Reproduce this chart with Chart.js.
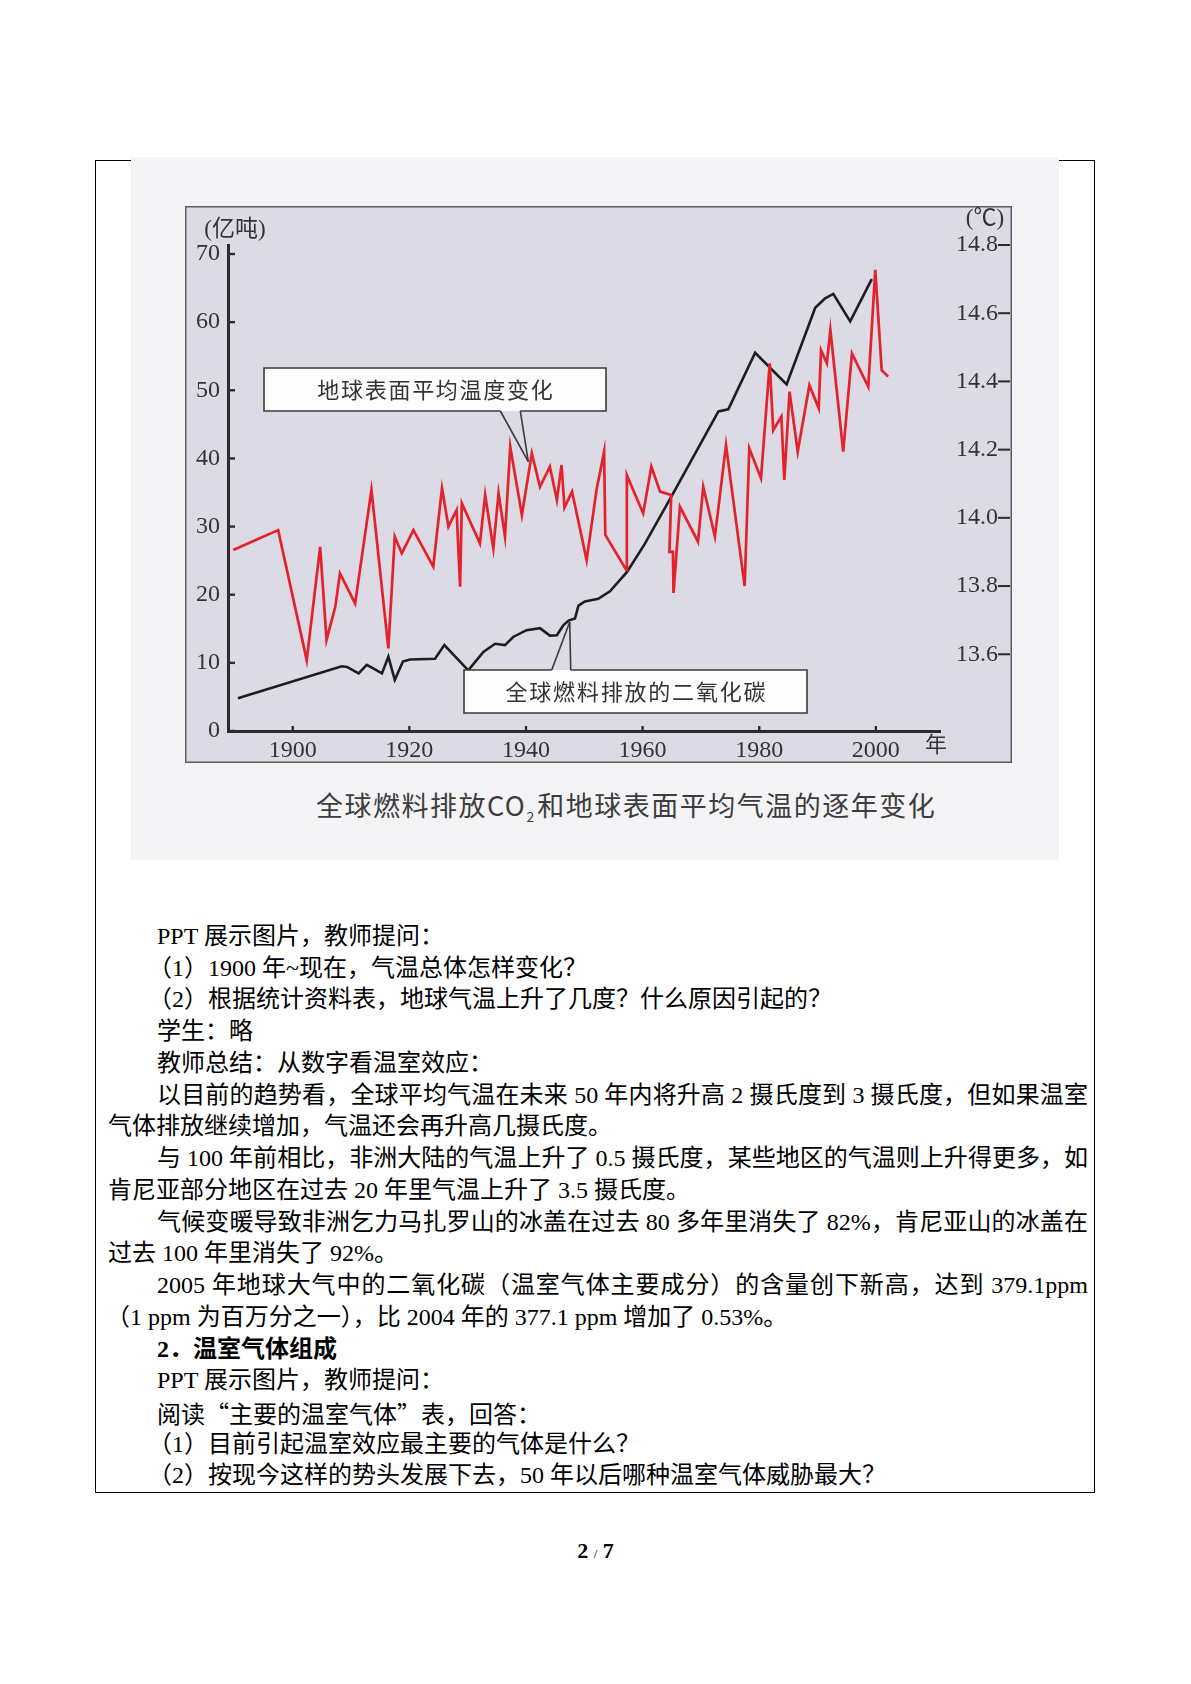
<!DOCTYPE html>
<html>
<head>
<meta charset="UTF-8">
<title>全球燃料排放CO2和地球表面平均气温的逐年变化</title>
<script src="https://cdn.jsdelivr.net/npm/chart.js"></script>
<style>
    html, body { margin: 0; padding: 0; background: #fff; }
    body { width: 1191px; height: 1684px; position: relative; overflow: hidden;
           font-family: "Liberation Serif", "Noto Sans CJK SC", serif; color: #000; }

    .table_box { position: absolute; left: 95px; top: 160px; width: 1000px; height: 1333px;
                 border: 1.5px solid #000; box-sizing: border-box; }
    .scan { position: absolute; left: 131px; top: 157px; width: 928px; height: 703px; background: #f4f3f6; }
    .chart_holder { position: absolute; left: 185px; top: 206px; width: 827px; height: 562px; }
    .caption { position: absolute; left: 316px; top: 786px; font-family: "Noto Sans CJK SC", sans-serif;
               font-size: 27px; letter-spacing: 1.5px; line-height: 38px; color: #3c3c3c; white-space: nowrap; }
    .caption sub { font-size: 14px; vertical-align: -6px; letter-spacing: 3px; }

    .lines { position: absolute; left: 0; top: 921px; width: 1191px; }
    .ln { height: 31.74px; line-height: 31.74px; font-size: 24px; white-space: nowrap; }
    .jst { text-align: justify; text-align-last: justify; width: 931px; }
    .wrapok { white-space: normal; }
    .cjk { font-family: "Noto Sans CJK SC", sans-serif; }
    .bold { font-weight: bold; }

    .page_no { position: absolute; left: 0; width: 1191px; top: 1538px; text-align: center;
               font-size: 22px; font-weight: bold; }
    .page_no span { font-size: 13px; font-weight: normal; }
</style>
</head>
<body>

    <div class="table_box"></div>
    <div class="scan"></div>

    <div class="chart_holder">
        <canvas id="co2_temp_chart"></canvas>
    </div>

    <div class="caption">全球燃料排放CO<sub>2</sub>和地球表面平均气温的逐年变化</div>

    <div class="lines">
        <div class="ln" style="margin-left:157px">PPT 展示图片，教师提问：</div>
        <div class="ln" style="margin-left:148px">（1）1900 年~现在，气温总体怎样变化？</div>
        <div class="ln" style="margin-left:148px">（2）根据统计资料表，地球气温上升了几度？什么原因引起的？</div>
        <div class="ln" style="margin-left:157px">学生：略</div>
        <div class="ln" style="margin-left:157px">教师总结：从数字看温室效应：</div>
        <div class="ln jst" style="margin-left:157px">以目前的趋势看，全球平均气温在未来 50 年内将升高 2 摄氏度到 3 摄氏度，但如果温室</div>
        <div class="ln" style="margin-left:108px">气体排放继续增加，气温还会再升高几摄氏度。</div>
        <div class="ln jst" style="margin-left:157px">与 100 年前相比，非洲大陆的气温上升了 0.5 摄氏度，某些地区的气温则上升得更多，如</div>
        <div class="ln" style="margin-left:108px">肯尼亚部分地区在过去 20 年里气温上升了 3.5 摄氏度。</div>
        <div class="ln jst" style="margin-left:157px">气候变暖导致非洲乞力马扎罗山的冰盖在过去 80 多年里消失了 82%，肯尼亚山的冰盖在</div>
        <div class="ln" style="margin-left:108px">过去 100 年里消失了 92%。</div>
        <div class="ln jst wrapok" style="margin-left:157px">2005 年地球大气中的二氧化碳（温室气体主要成分）的含量创下新高，达到 379.1ppm</div>
        <div class="ln" style="margin-left:106px">（1 ppm 为百万分之一），比 2004 年的 377.1 ppm 增加了 0.53%。</div>
        <div class="ln bold" style="margin-left:157px">2．温室气体组成</div>
        <div class="ln" style="margin-left:157px">PPT 展示图片，教师提问：</div>
        <div class="ln" style="margin-left:157px">阅读<span class="cjk">“</span>主要的温室气体<span class="cjk">”</span>表，回答：</div>
        <div class="ln" style="margin-left:148px">（1）目前引起温室效应最主要的气体是什么？</div>
        <div class="ln" style="margin-left:148px">（2）按现今这样的势头发展下去，50 年以后哪种温室气体威胁最大？</div>
    </div>

    <div class="page_no">2 <span>/</span> 7</div>

<script>
// values
const co2Years  = [1890.6, 1908.4, 1909.3, 1911.3, 1912.7, 1913.8, 1915.3, 1916.4, 1917.5, 1918.9,
                   1920.1, 1924.4, 1926.0, 1930.1, 1932.7, 1934.7, 1936.4, 1937.8, 1940.1, 1942.4,
                   1944.1, 1945.3, 1946.4, 1947.3, 1948.4, 1949.0, 1950.1, 1952.4, 1954.4, 1957.3,
                   1960.4, 1965.0, 1973.0, 1974.7, 1979.3, 1984.7, 1989.6, 1991.3, 1992.7, 1995.6,
                   1999.3];
const co2Values = [4.8, 9.5, 9.4, 8.45, 9.7, 9.2, 8.45, 10.9, 7.5, 10.2,
                   10.5, 10.6, 12.6, 8.9, 11.6, 12.8, 12.6, 13.8, 14.8, 15.1,
                   14.0, 14.05, 15.5, 16.2, 16.5, 18.4, 19.0, 19.4, 20.5, 23.3,
                   27.5, 34.5, 46.9, 47.2, 55.5, 50.85, 62.1, 63.5, 64.15, 60.1,
                   66.3];

const tempYears  = [1889.8, 1897.5, 1902.4, 1904.7, 1905.8, 1907.3, 1908.1, 1910.7, 1913.5, 1916.4,
                    1917.5, 1918.7, 1920.7, 1924.1, 1925.6, 1926.7, 1928.1, 1928.7, 1929.0, 1932.1,
                    1933.0, 1934.4, 1935.3, 1936.4, 1937.3, 1939.3, 1941.0, 1942.4, 1944.1, 1945.3,
                    1946.1, 1946.6, 1947.9, 1950.4, 1952.1, 1953.4, 1953.6, 1957.2, 1957.3, 1960.1,
                    1961.5, 1963.0, 1964.9, 1964.6, 1965.2, 1965.3, 1966.4, 1969.5, 1970.4, 1972.4,
                    1974.3, 1977.5, 1978.3, 1980.3, 1981.8, 1982.4, 1983.8, 1984.3, 1985.2, 1986.6,
                    1988.6, 1990.2, 1990.6, 1991.6, 1992.2, 1994.4, 1995.9, 1998.7, 1999.9, 2001.0,
                    2002.1];
const tempValues = [13.906, 13.964, 13.583, 13.915, 13.642, 13.739, 13.837, 13.749, 14.082, 13.617,
                    13.945, 13.896, 13.964, 13.857, 14.087, 13.974, 14.023, 13.798, 14.043, 13.925,
                    14.067, 13.911, 14.072, 13.945, 14.209, 14.008, 14.189, 14.091, 14.15, 14.052,
                    14.155, 14.03, 14.077, 13.876, 14.082, 14.194, 13.95, 13.847, 14.125, 14.013,
                    14.15, 14.077, 14.067, 13.9, 13.9, 13.78, 14.033, 13.93, 14.091, 13.945,
                    14.213, 13.8, 14.204, 14.116, 14.453, 14.257, 14.297, 14.111, 14.37, 14.194,
                    14.389, 14.321, 14.492, 14.453, 14.551, 14.194, 14.482, 14.384, 14.727, 14.433,
                    14.414];

const yearTicks = [1900, 1920, 1940, 1960, 1980, 2000];
const co2Ticks  = [0, 10, 20, 30, 40, 50, 60, 70];
const tempTicks = [13.6, 13.8, 14.0, 14.2, 14.4, 14.6, 14.8];

const co2Unit   = '(亿吨)';
const tempUnit  = '(℃)';
const yearUnit  = '年';
const tempNote  = '地球表面平均温度变化';
const co2Note   = '全球燃料排放的二氧化碳';

const SERIF = '"Liberation Serif", "Noto Sans CJK SC", serif';
const AXIS_INK = '#2b2b2e';
const LABEL_INK = '#333336';
const FRAME_H = 557;   // printed frame height inside the canvas


//  background + frame of the printed figure
//---------------------------------------------------------------
const frameBackground = {
    id: 'frameBackground',
    beforeDraw(chart) {
        const {ctx, width, height} = chart;
        ctx.save();
        ctx.fillStyle = '#f4f3f6';
        ctx.fillRect(0, 0, width, height);
        ctx.fillStyle = '#dcdae4';
        ctx.fillRect(0, 0, width, FRAME_H);
        ctx.strokeStyle = '#5c5b62';
        ctx.lineWidth = 1.5;
        ctx.strokeRect(0.75, 0.75, width - 1.5, FRAME_H - 1.5);
        ctx.restore();
    }
};

function seg(ctx, x1, y1, x2, y2) {
    ctx.beginPath();
    ctx.moveTo(x1, y1);
    ctx.lineTo(x2, y2);
    ctx.stroke();
}

function spacedText(ctx, text, cx, cy, step) {
    const chars = Array.from(text);
    let x = cx - step * (chars.length - 1) / 2;
    chars.forEach(c => { ctx.fillText(c, x, cy); x += step; });
}

// callout box with a pointer; the gap is where the pointer leaves the box edge
function callout(ctx, box, side, gapLeft, gapRight, tip, text, step) {
    const {x0, y0, x1, y1} = box;
    ctx.fillStyle = '#fdfdfd';
    ctx.fillRect(x0, y0, x1 - x0, y1 - y0);
    ctx.strokeStyle = '#3a3a3e';
    ctx.lineWidth = 1.6;
    ctx.beginPath();
    if (side === 'bottom') {
        ctx.moveTo(gapLeft, y1); ctx.lineTo(x0, y1); ctx.lineTo(x0, y0);
        ctx.lineTo(x1, y0); ctx.lineTo(x1, y1); ctx.lineTo(gapRight, y1);
        ctx.stroke();
        seg(ctx, gapLeft, y1, tip.x, tip.y);
        seg(ctx, gapRight, y1, tip.x, tip.y);
    } else {
        ctx.moveTo(gapLeft, y0); ctx.lineTo(x0, y0); ctx.lineTo(x0, y1);
        ctx.lineTo(x1, y1); ctx.lineTo(x1, y0); ctx.lineTo(gapRight, y0);
        ctx.stroke();
        seg(ctx, gapLeft, y0, tip.x, tip.y);
        seg(ctx, gapRight, y0, tip.x, tip.y);
    }
    ctx.fillStyle = '#333336';
    ctx.font = '22px "Noto Sans CJK SC", sans-serif';
    ctx.textAlign = 'center';
    ctx.textBaseline = 'middle';
    spacedText(ctx, text, (x0 + x1) / 2, (y0 + y1) / 2, step);
}


//  inward tick marks, unit labels and the two callouts
//---------------------------------------------------------------
const figureDecor = {
    id: 'figureDecor',
    afterDatasetsDraw(chart) {
        const {ctx, chartArea, scales, width} = chart;
        const xs = scales.x, yl = scales.y, yr = scales.y1;
        ctx.save();

        ctx.strokeStyle = AXIS_INK;
        ctx.lineWidth = 2.4;
        co2Ticks.forEach(v => {
            const py = yl.getPixelForValue(v);
            seg(ctx, chartArea.left, py, chartArea.left + 7, py);
        });
        yearTicks.forEach(v => {
            const px = xs.getPixelForValue(v);
            seg(ctx, px, chartArea.bottom, px, chartArea.bottom - 5);
        });
        ctx.lineWidth = 2;
        tempTicks.forEach(v => {
            const py = yr.getPixelForValue(v);
            seg(ctx, width - 14, py, width - 2, py);
        });

        ctx.fillStyle = LABEL_INK;
        ctx.textAlign = 'center';
        ctx.textBaseline = 'middle';
        ctx.font = '23px ' + SERIF;
        ctx.fillText(co2Unit, 50, 24);
        ctx.fillText(tempUnit, 800, 13);
        ctx.font = '22px ' + SERIF;
        ctx.fillText(yearUnit, 751, 540);

        // callout for the temperature curve, pointing at the 1940 peak
        const tipT = { x: xs.getPixelForValue(1940.4), y: yr.getPixelForValue(14.165) };
        callout(ctx, { x0: 79, y0: 162, x1: 421, y1: 205 }, 'bottom',
                tipT.x - 28, tipT.x - 8, tipT, tempNote, 23.7);

        // callout for the CO2 curve, pointing at the late 1940s
        const tipC = { x: xs.getPixelForValue(1947.5), y: yl.getPixelForValue(16.0) };
        callout(ctx, { x0: 279, y0: 464, x1: 622, y1: 507 }, 'top',
                tipC.x - 18, tipC.x + 1, tipC, co2Note, 23.8);

        ctx.restore();
    }
};


//  chart
//---------------------------------------------------------------
const co2Points  = co2Years.map((yr, i) => ({ x: yr, y: co2Values[i] }));
const tempPoints = tempYears.map((yr, i) => ({ x: yr, y: tempValues[i] }));

const tickFont = { family: SERIF, size: 24 };

new Chart(document.getElementById('co2_temp_chart'), {
    type: 'line',
    data: {
        datasets: [
            {
                label: tempNote,
                data: tempPoints,
                yAxisID: 'y1',
                borderColor: '#e3222b',
                borderWidth: 2.7,
                pointRadius: 0,
                tension: 0,
                borderJoinStyle: 'miter',
            },
            {
                label: co2Note,
                data: co2Points,
                yAxisID: 'y',
                borderColor: '#1d1d20',
                borderWidth: 2.6,
                pointRadius: 0,
                tension: 0,
            },
        ],
    },
    options: {
        responsive: true,
        maintainAspectRatio: false,
        animation: false,
        layout: { padding: { top: 39, left: 0, right: 0, bottom: 0 } },
        plugins: { legend: { display: false }, tooltip: { enabled: false } },
        scales: {
            x: {
                type: 'linear',
                position: 'bottom',
                min: 1888.9,
                max: 2011.0,
                grid: { display: false, drawTicks: false, tickLength: 0 },
                border: { display: true, color: AXIS_INK, width: 3 },
                ticks: { font: tickFont, color: LABEL_INK, padding: 5, autoSkip: false, maxRotation: 0,
                         callback: v => String(v) },
                afterBuildTicks: s => { s.ticks = yearTicks.map(v => ({ value: v })); },
                afterFit: s => { s.height = 37; },
            },
            y: {
                type: 'linear',
                position: 'left',
                min: 0,
                max: 71.32,
                grid: { display: false, drawTicks: false, tickLength: 0 },
                border: { display: true, color: AXIS_INK, width: 3 },
                ticks: { font: tickFont, color: LABEL_INK, padding: 8, callback: v => String(v) },
                afterBuildTicks: s => { s.ticks = co2Ticks.map(v => ({ value: v })); },
                afterFit: s => { s.width = 43; },
            },
            y1: {
                type: 'linear',
                position: 'right',
                min: 13.375,
                max: 14.8,
                grid: { display: false, drawTicks: false, tickLength: 0 },
                border: { display: false },
                ticks: { font: tickFont, color: LABEL_INK, padding: 16,
                         callback: v => v.toFixed(1) },
                afterBuildTicks: s => { s.ticks = tempTicks.map(v => ({ value: v })); },
                afterFit: s => { s.width = 72; },
            },
        },
    },
    plugins: [frameBackground, figureDecor],
});
</script>
</body>
</html>
